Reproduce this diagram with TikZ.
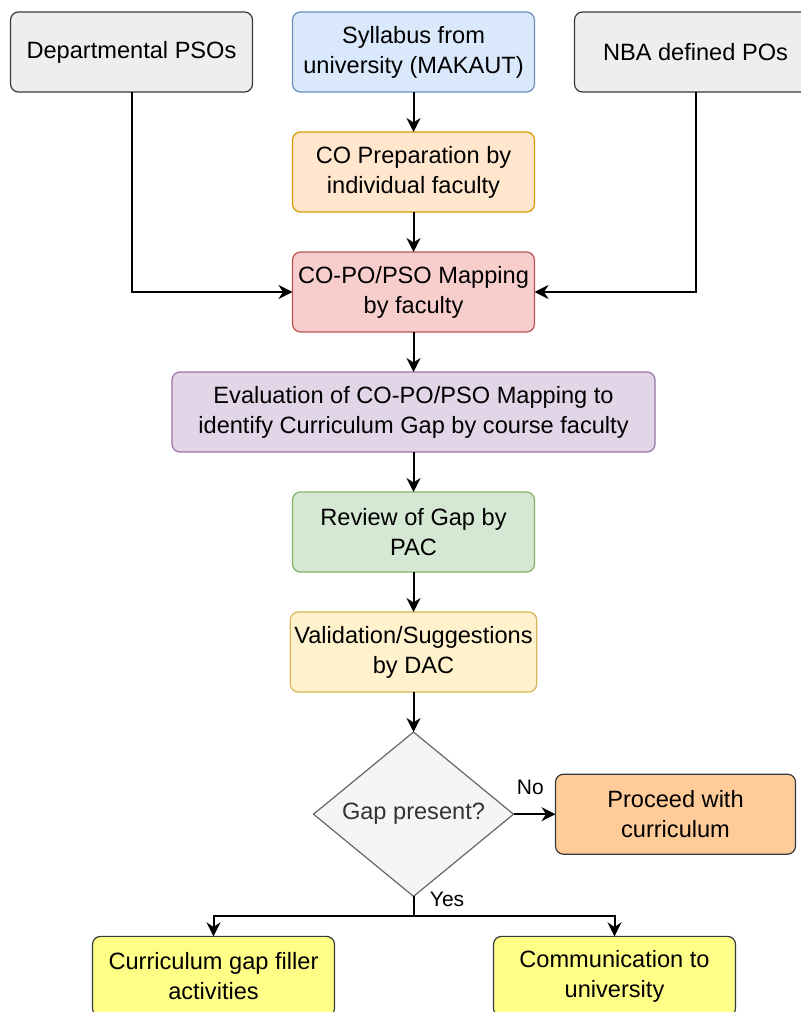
\documentclass[tikz,border=0pt]{standalone}
\usepackage{fontspec}
\setmainfont{Liberation Sans}
\usetikzlibrary{shapes.geometric, arrows.meta, positioning}

\definecolor{grayfill}{HTML}{EEEEEE}
\definecolor{darkline}{HTML}{36393D}
\definecolor{bluefill}{HTML}{DAE8FC}
\definecolor{blueline}{HTML}{6C8EBF}
\definecolor{orangefill}{HTML}{FFE6CC}
\definecolor{orangeline}{HTML}{D79B00}
\definecolor{redfill}{HTML}{F8CECC}
\definecolor{redline}{HTML}{B85450}
\definecolor{purplefill}{HTML}{E1D5E7}
\definecolor{purpleline}{HTML}{9673A6}
\definecolor{greenfill}{HTML}{D5E8D4}
\definecolor{greenline}{HTML}{82B366}
\definecolor{yellowfill}{HTML}{FFF2CC}
\definecolor{yellowline}{HTML}{D6B656}
\definecolor{diamfill}{HTML}{F5F5F5}
\definecolor{diamline}{HTML}{666666}
\definecolor{diamtext}{HTML}{333333}
\definecolor{peachfill}{HTML}{FFCC99}
\definecolor{lemonfill}{HTML}{FFFF88}

\begin{document}
\begin{tikzpicture}[
	block/.style={rectangle, rounded corners=4pt, draw, line width=0.6pt, minimum width=121pt, minimum height=40pt, inner sep=2pt, outer sep=0pt, align=center, font=\fontsize{11.8}{15}\selectfont},
	decision/.style={diamond, draw=diamline, fill=diamfill, text=diamtext, line width=0.6pt, minimum width=100pt, minimum height=80pt, inner sep=0pt, outer sep=0pt, font=\fontsize{11.8}{15}\selectfont},
	arrow/.style={-{Stealth[length=7pt, width=7pt]}, line width=1pt},
	label/.style={font=\fontsize{10.5}{12}\selectfont, inner sep=1pt},
	node distance=20pt
]
	\useasboundingbox (0,0) rectangle (400pt,-506pt);

	% Inputs
	\node[block, fill=bluefill, draw=blueline] (syllabus) at (206.75pt,-26pt) {Syllabus from\\university (MAKAUT)};
	\node[block, fill=grayfill, draw=darkline, left=of syllabus] (pso) {Departmental PSOs};
	\node[block, fill=grayfill, draw=darkline, right=of syllabus] (po) {NBA defined POs};

	% Main flow
	\node[block, fill=orangefill, draw=orangeline, below=of syllabus] (coprep) {CO Preparation by\\individual faculty};
	\node[block, fill=redfill, draw=redline, below=of coprep] (mapping) {CO-PO/PSO Mapping\\by faculty};
	\node[block, fill=purplefill, draw=purpleline, minimum width=241.5pt, below=of mapping] (evaluation) {Evaluation of CO-PO/PSO Mapping to\\identify Curriculum Gap by course faculty};
	\node[block, fill=greenfill, draw=greenline, below=of evaluation] (review) {Review of Gap by\\PAC};
	\node[block, fill=yellowfill, draw=yellowline, below=of review] (validation) {Validation/Suggestions\\by DAC};

	% Decision
	\node[decision, below=of validation] (gap) {Gap present?};
	\node[block, fill=peachfill, draw=darkline, minimum width=120pt, right=21pt of gap] (proceed) {Proceed with\\curriculum};
	\node[block, fill=lemonfill, draw=darkline, below=of gap, xshift=-100pt] (filler) {Curriculum gap filler\\activities};
	\node[block, fill=lemonfill, draw=darkline, below=of gap, xshift=100.5pt] (communicate) {Communication to\\university};

	% Arrows
	\draw[arrow] (syllabus) -- (coprep);
	\draw[arrow] (coprep) -- (mapping);
	\draw[arrow] (pso.south) |- (mapping.west);
	\draw[arrow] (po.south) |- (mapping.east);
	\draw[arrow] (mapping) -- (evaluation);
	\draw[arrow] (evaluation) -- (review);
	\draw[arrow] (review) -- (validation);
	\draw[arrow] (validation) -- (gap);
	\draw[arrow] (gap) -- node[label, pos=0.4, above=8pt] {No} (proceed);
	\coordinate[below=10pt of gap.south] (split);
	\draw[line width=1pt] (gap.south) -- (split);
	\draw[arrow] (split) -| (filler.north);
	\draw[arrow] (split) -| (communicate.north);
	\node[label, anchor=west] at ([xshift=7pt, yshift=-1.5pt]gap.south) {Yes};
\end{tikzpicture}
\end{document}
